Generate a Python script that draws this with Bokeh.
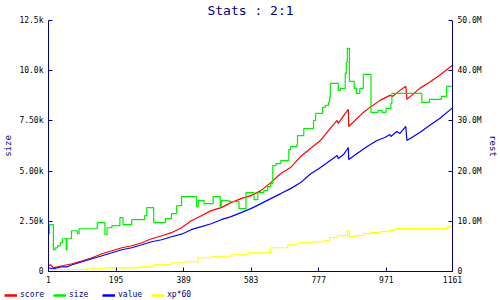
import math
from bokeh.plotting import figure
from bokeh.layouts import column, row
from bokeh.models import Range1d, LinearAxis, FixedTicker, Legend, LegendItem
from bokeh.embed import file_html
from bokeh.resources import INLINE

# ---------------- data ----------------
x_ticks = [1, 195, 389, 583, 777, 971, 1161]
size_ticks = [0, 2500, 5000, 7500, 10000, 12500]
size_tick_labels = ["0", "2.50k", "5.00k", "7.50k", "10.0k", "12.5k"]
rest_ticks = [0, 10000000, 20000000, 30000000, 40000000, 50000000]
rest_tick_labels = ["0", "10.0M", "20.0M", "30.0M", "40.0M", "50.0M"]

score_x = [1, 7, 15, 27, 41, 69, 98, 126, 155, 183, 212, 240, 269, 297, 326, 354,
           383, 411, 440, 468, 497, 525, 554, 582, 611, 639, 668, 696, 725, 753,
           782, 810, 830, 833, 853, 862, 863, 905, 924, 953, 981, 990, 1010, 1027,
           1030, 1067, 1095, 1124, 1161]
score_m = [1.14, 1.34, 0.74, 0.94, 1.14, 1.54, 2.14, 2.74, 3.53, 4.13, 4.73, 5.13,
           5.73, 6.53, 7.13, 7.73, 8.73, 10.12, 11.12, 12.12, 12.72, 13.72, 14.52,
           15.12, 16.11, 17.71, 19.51, 20.71, 22.9, 24.5, 26.1, 28.49, 30.09, 29.49,
           31.49, 32.29, 28.89, 31.69, 32.69, 34.09, 35.09, 34.9, 36.08, 36.88,
           34.29, 36.48, 37.68, 39.08, 41.07]

size_x = [1, 4, 15, 20, 27, 35, 41, 52, 54, 67, 84, 89, 141, 163, 169, 183, 206,
          215, 240, 277, 283, 303, 337, 354, 369, 383, 426, 431, 448, 474, 494, 497,
          520, 548, 568, 591, 602, 619, 630, 639, 645, 654, 668, 691, 696, 714, 716,
          734, 762, 768, 788, 796, 805, 808, 810, 833, 839, 853, 856, 859, 865, 879,
          885, 895, 905, 927, 947, 959, 970, 984, 987, 1073, 1095, 1129, 1144, 1161]
size_v = [1880, 2330, 1080, 1180, 1280, 1430, 1630, 1080, 1630, 2030, 1880, 2130,
          2430, 1830, 2180, 2280, 2680, 2330, 2580, 2780, 3180, 2430, 2630, 2880,
          3280, 3730, 3230, 3530, 3380, 3730, 3230, 3530, 3480, 3130, 3927, 3578,
          3927, 4027, 4226, 4376, 5274, 5374, 5524, 6073, 6222, 6322, 6771, 7121,
          7520, 7870, 8169, 8269, 8419, 8668, 9367, 9017, 9117, 9865, 10414, 11113,
          9466, 9117, 8868, 9117, 9815, 7920, 8019, 7920, 8119, 8369, 8868, 8419,
          8568, 8718, 9217, 9217]

value_x = [1, 12, 41, 55, 69, 98, 126, 155, 183, 212, 240, 269, 297, 326, 354, 383,
           411, 440, 468, 497, 525, 554, 582, 611, 639, 668, 696, 725, 753, 782, 810,
           830, 833, 848, 862, 863, 887, 916, 944, 967, 981, 984, 1001, 1010, 1027,
           1030, 1067, 1095, 1124, 1161]
value_m = [0.74, 0.54, 0.94, 0.94, 1.34, 1.94, 2.54, 3.13, 3.73, 4.33, 4.73, 5.33,
           5.93, 6.33, 6.93, 7.43, 8.33, 8.93, 9.52, 10.32, 10.92, 11.72, 12.52,
           13.52, 14.52, 15.52, 16.51, 17.71, 19.41, 20.71, 22.11, 23.1, 22.5, 23.3,
           24.7, 22.3, 23.5, 24.9, 26.1, 26.7, 27.3, 26.9, 27.9, 27.5, 28.89, 26.1,
           27.7, 29.1, 30.49, 32.6]

xp_x = [1, 106, 163, 260, 303, 354, 391, 431, 468, 525, 574, 639, 688, 716, 759,
        788, 808, 830, 853, 859, 865, 882, 905, 924, 953, 976, 990, 1001, 1138,
        1147, 1161]
xp_m = [0.4, 0.54, 0.74, 0.94, 1.34, 1.74, 1.94, 2.74, 2.94, 3.34, 3.73, 4.73, 5.33,
        5.73, 5.93, 6.13, 6.73, 7.13, 7.13, 8.13, 6.93, 7.13, 7.53, 7.73, 7.93, 8.13,
        8.33, 8.53, 8.53, 8.93, 8.93]

series_names = ["score", "size", "value", "xp*60"]
series_colors = ["#ff0000", "#00ee00", "#0000ff", "#ffff00"]

NAVY = "#000080"
MONO = "DejaVu Sans Mono"

# ---------------- main figure ----------------
p = figure(width=500, height=286, output_backend="svg", toolbar_location=None,
           x_range=Range1d(1, 1161), y_range=Range1d(0, 12500),
           min_border_left=46, min_border_right=47, min_border_top=20,
           min_border_bottom=15, title="Stats : 2:1")
p.extra_y_ranges = {"rest": Range1d(0, 50000000)}
p.outline_line_color = None
p.background_fill_color = "white"
p.border_fill_color = "white"
p.xgrid.visible = False
p.ygrid.visible = False

p.title.align = "center"
p.title.vertical_align = "top"
p.title.text_font = MONO
p.title.text_font_size = "13px"
p.title.text_font_style = "normal"
p.title.text_color = NAVY
p.title.standoff = 1
p.title.offset = 0

right_axis = LinearAxis(y_range_name="rest", axis_label="rest")
p.add_layout(right_axis, "right")

p.xaxis.ticker = FixedTicker(ticks=x_ticks)
p.yaxis[0].ticker = FixedTicker(ticks=size_ticks)
p.yaxis[0].major_label_overrides = dict(zip(size_ticks, size_tick_labels))
p.yaxis[0].axis_label = "size"
right_axis.ticker = FixedTicker(ticks=rest_ticks)
right_axis.major_label_overrides = dict(zip(rest_ticks, rest_tick_labels))

for ax in p.axis:
    ax.axis_line_color = NAVY
    ax.axis_line_width = 1
    ax.major_tick_line_color = NAVY
    ax.major_tick_in = 4
    ax.major_tick_out = 0
    ax.minor_tick_line_color = None
    ax.major_label_text_font = MONO
    ax.major_label_text_font_size = "8px"
    ax.major_label_text_color = "black"
    ax.major_label_standoff = 5
    ax.axis_label_text_font = MONO
    ax.axis_label_text_font_size = "9px"
    ax.axis_label_text_font_style = "normal"
    ax.axis_label_text_color = NAVY
    ax.axis_label_standoff = 3
p.xaxis.major_label_standoff = 4
try:
    right_axis.axis_label_orientation = "vertical"
except Exception:
    pass

# ---------------- series ----------------
sc = [v * 1e6 for v in score_m]
va = [v * 1e6 for v in value_m]
xp = [v * 1e6 for v in xp_m]
series_data = [(score_x, sc), (size_x, size_v), (value_x, va), (xp_x, xp)]

p.line(score_x, sc, color=series_colors[0], line_width=1.2, y_range_name="rest")
p.step(size_x, size_v, mode="after", color=series_colors[1], line_width=1.2)
p.line(value_x, va, color=series_colors[2], line_width=1.2, y_range_name="rest")
p.step(xp_x, xp, mode="after", color=series_colors[3], line_width=1.2, y_range_name="rest")

# ---------------- legend strip ----------------
lf = figure(width=500, height=14, output_backend="svg", toolbar_location=None,
            x_axis_type=None, y_axis_type=None,
            min_border_left=0, min_border_right=0, min_border_top=0, min_border_bottom=0,
            x_range=Range1d(-3, -2), y_range=Range1d(-3, -2))
lf.outline_line_color = None
lf.xgrid.visible = False
lf.ygrid.visible = False
items = []
for name, col, (xs, ys) in zip(series_names, series_colors, series_data):
    r = lf.line(xs, ys, color=col, line_width=2.5)
    items.append(LegendItem(label=name, renderers=[r]))
legend = Legend(items=items, orientation="horizontal", location=(4, 1),
                glyph_width=13, glyph_height=8, label_height=8, label_width=33,
                label_standoff=3, spacing=0, padding=0, margin=0,
                label_text_font=MONO, label_text_font_size="8px",
                label_text_color=NAVY, border_line_color=None,
                background_fill_alpha=0)
lf.add_layout(legend, "center")

layout = column(p, row(lf, spacing=0), spacing=0)
open("out.html", "w").write(file_html(layout, INLINE))
